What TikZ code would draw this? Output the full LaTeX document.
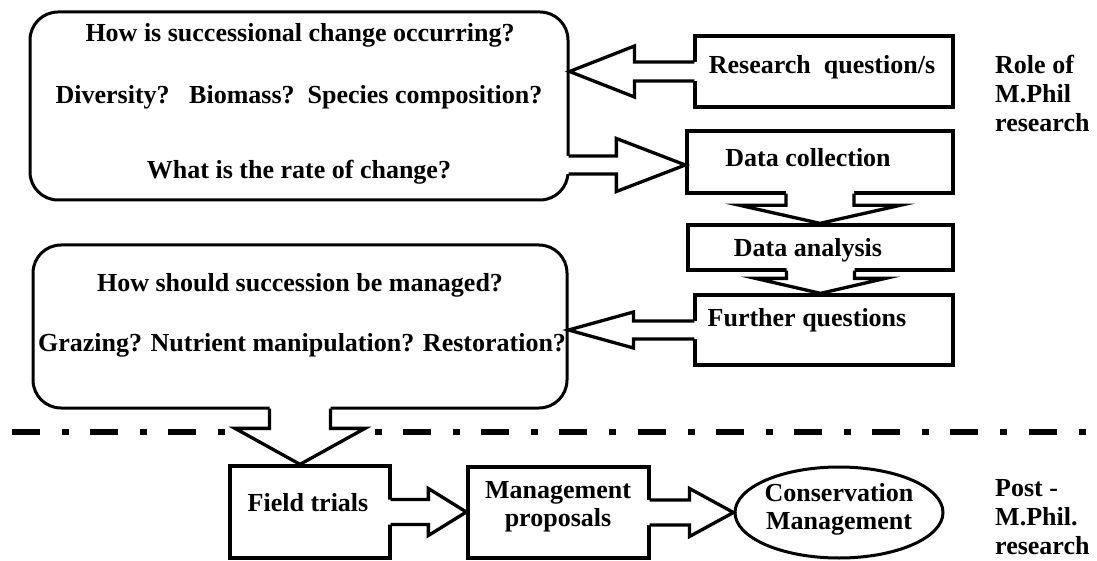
\documentclass[tikz,border=0pt]{standalone}
\usepackage{fontspec}
\setmainfont{Liberation Serif}
\usetikzlibrary{calc,shapes.geometric}

% horizontal block arrow: source point, target point, shaft half-height, head half-height, head length
\newcommand\hblock[5]{%
  \fill[white] let \p1=(#1), \p2=(#2), \n1={sign(\x2-\x1)} in
    ({\x1-(\n1)*4pt},{\y1+#3pt}) -- ({\x2-(\n1)*#5pt},{\y1+#3pt}) --
    ({\x2-(\n1)*#5pt},{\y1+#4pt}) -- (\x2,\y1) -- ({\x2-(\n1)*#5pt},{\y1-#4pt}) --
    ({\x2-(\n1)*#5pt},{\y1-#3pt}) -- ({\x1-(\n1)*4pt},{\y1-#3pt}) -- cycle;
  \draw[blockarrow] let \p1=(#1), \p2=(#2), \n1={sign(\x2-\x1)} in
    ({\x1-(\n1)*1pt},{\y1+#3pt}) -- ({\x2-(\n1)*#5pt},{\y1+#3pt}) --
    ({\x2-(\n1)*#5pt},{\y1+#4pt}) -- (\x2,\y1) -- ({\x2-(\n1)*#5pt},{\y1-#4pt}) --
    ({\x2-(\n1)*#5pt},{\y1-#3pt}) -- ({\x1-(\n1)*1pt},{\y1-#3pt});}
% vertical block arrow, same arguments
\newcommand\vblock[5]{%
  \fill[white] let \p1=(#1), \p2=(#2), \n1={sign(\y2-\y1)} in
    ({\x1-#3pt},{\y1-(\n1)*4pt}) -- ({\x1-#3pt},{\y2-(\n1)*#5pt}) --
    ({\x1-#4pt},{\y2-(\n1)*#5pt}) -- (\x1,\y2) -- ({\x1+#4pt},{\y2-(\n1)*#5pt}) --
    ({\x1+#3pt},{\y2-(\n1)*#5pt}) -- ({\x1+#3pt},{\y1-(\n1)*4pt}) -- cycle;
  \draw[blockarrow] let \p1=(#1), \p2=(#2), \n1={sign(\y2-\y1)} in
    ({\x1-#3pt},{\y1-(\n1)*1pt}) -- ({\x1-#3pt},{\y2-(\n1)*#5pt}) --
    ({\x1-#4pt},{\y2-(\n1)*#5pt}) -- (\x1,\y2) -- ({\x1+#4pt},{\y2-(\n1)*#5pt}) --
    ({\x1+#3pt},{\y2-(\n1)*#5pt}) -- ({\x1+#3pt},{\y1-(\n1)*1pt});}

\tikzset{
  qbox/.style={draw, line width=3pt, rounded corners=28pt, inner sep=0pt},
  sbox/.style={draw, line width=3.3pt, inner sep=0pt},
  oval/.style={draw, ellipse, line width=3pt, inner sep=0pt},
  txt/.style={font=\bfseries\fontsize{26}{28}\selectfont, inner sep=0pt, align=center},
  side/.style={font=\bfseries\fontsize{26}{29}\selectfont, inner sep=0pt, align=left, anchor=west},
  blockarrow/.style={line width=3.3pt, line join=miter},
  separator/.style={line width=6pt, dash pattern=on 28pt off 22pt on 7pt off 21.2pt, dash phase=66.2pt}
}

\begin{document}
\begin{tikzpicture}[x=1pt,y=-1pt]
\useasboundingbox (0,0) rectangle (1097,561);

% boundary between the two phases of work
\coordinate (sepL) at (0,432);
\coordinate (sepR) at (1097,432);
\draw[separator] (sepL) -- (sepR);

% question boxes
\node[qbox, minimum width=538pt, minimum height=188pt] (qa) at (299,106) {};
\node[qbox, minimum width=534pt, minimum height=163pt] (qb) at (300,326.5) {};

% research steps
\node[sbox, minimum width=258pt, minimum height=71pt] (rq) at (824,71.5) {};
\node[sbox, minimum width=266pt, minimum height=62pt] (dc) at (820,162) {};
\node[sbox, minimum width=265pt, minimum height=45pt] (da) at (820.5,247.5) {};
\node[sbox, minimum width=258pt, minimum height=70pt] (fq) at (824,330) {};

% follow-up work
\node[sbox, minimum width=160pt, minimum height=92pt] (ft) at (310,512) {};
\node[sbox, minimum width=181pt, minimum height=91pt] (mp) at (558.5,512.5) {};
\node[oval, minimum width=208pt, minimum height=91pt] (cm) at (839,512.5) {};

% texts
\node[txt] (qa1) at (300,35) {How is successional change occurring?};
\node[txt] (qa2) at (299,97) {Diversity?\ \ \ Biomass?\ \ Species composition?};
\node[txt] (qa3) at (299,172) {What is the rate of change?};
\node[txt] (qb1) at (300,285) {How should succession be managed?};
\node[txt] (qb2) at (302,345) {Grazing? Nutrient manipulation? Restoration?};
\node[txt] (rqt) at (822,67) {Research\ \ question/s};
\node[txt] (dct) at (808,158) {Data collection};
\node[txt] (dat) at (808,250) {Data analysis};
\node[txt] (fqt) at (807,320) {Further questions};
\node[txt] (ftt) at (308,503) {Field trials};
\node[txt] (mpt) at (558,506.5) {Management\\proposals};
\node[txt] (cmt) at (839,509) {Conservation\\Management};
\node[side] (role) at (995,93) {Role of\\M.Phil\\research};
\node[side] (post) at (995,517) {Post -\\M.Phil.\\research};

% block arrows
\hblock{rq.west}{rq.west -| qa.east}{9.5}{25.5}{65}
\hblock{$(qa.east |- dc.west)+(0,3)$}{dc.west}{9}{26.5}{69}
\vblock{dc.south}{da.north}{34}{80}{18}
\vblock{da.south}{fq.north}{34}{65}{15}
\hblock{fq.west}{fq.west -| qb.east}{9}{18}{65}
\vblock{qb.south}{ft.north}{30.5}{65}{36}
\hblock{ft.east}{mp.west}{12.5}{23.5}{38}
\hblock{mp.east}{cm.west}{12.5}{24}{44}
\end{tikzpicture}
\end{document}
